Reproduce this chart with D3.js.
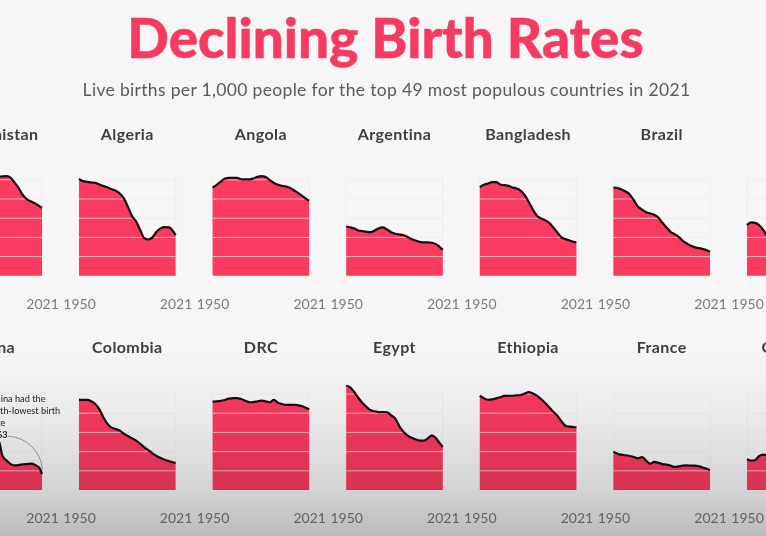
<!DOCTYPE html>
<html>
<head>
<meta charset="utf-8">
<script src="https://cdn.jsdelivr.net/npm/d3@7"></script>
<style>
html,body{margin:0;padding:0;background:#f6f6f6;overflow:hidden}
svg{display:block;filter:blur(0.45px)}
text{font-family:Lato,"Open Sans",sans-serif}
</style>
</head>
<body>
<script>
const years = [1950,1953,1956,1959,1962,1965,1968,1971,1974,1977,1980,1983,1986,1989,1992,1995,1998,2001,2004,2007,2010,2013,2016,2019,2021];
const yTicks = [10,20,30,40,50];
const xTickYears = [1950,2021];

const afghanistan = [50,50.5,51,51,51.2,51.4,51.5,51.5,51.5,51.6,51.6,51.6,51.6,51.6,51.8,51.9,51,48.4,45.5,42,39.8,38.7,37.7,36.3,35.4];
const algeria = [50.5,49.3,49,48.6,48.4,47.6,46.7,46,45.1,44.3,42.9,40.3,35.9,31.1,28.3,23.8,19.6,18.9,20,22.9,24.7,25.3,25.2,23.4,21.2];
const angola = [46,47.4,49,50.7,51,51,51,50.3,50.2,50.2,50.7,51.6,51.9,51.4,49.8,48.4,47.4,46.9,46.5,45.8,44.4,43.1,41.5,39.9,39.1];
const argentina = [25.7,25.2,24.6,23.6,23.3,22.9,22.7,23.6,24.8,25.2,24.1,22.7,21.9,21.5,21.2,20.3,19.1,18.4,17.7,17.4,17.4,17.2,16.5,14.8,13.5];
const bangladesh = [46.2,47.4,48.1,48.8,48.8,47.6,47.2,46.9,46,45.5,44.4,42,38.4,34.5,31.3,29.9,29,27.6,25.2,22.6,20,19.1,18.4,17.7,17.4];
const brazil = [46,45.7,45,43.9,42.4,39.4,36.1,34.5,33.1,32.5,31.8,30.4,27.6,25.2,22.9,21.7,20.3,18.2,16.8,15.6,14.8,14.4,13.9,13.2,12.5];
const canada = [26.4,27.8,27.6,26.3,23.8,20.5,17.5,16.5,15.8,15.3,15,15,14.8,14.5,14,13,12,11,11,11,11,10.8,10.5,10.2,10];
const china = [37,37,33,30,37,41,36,32,27,19,18,20,23,26,17.7,15.3,13.5,12.8,13,13.4,13.5,13.7,13,11.6,8.3];
const colombia = [46.9,46.9,46.9,46.2,44.8,42,37.8,34.4,32.5,31.8,30.9,29.3,28.1,26.9,25.7,24.1,22.2,20.8,19.1,17.7,16.7,15.8,15.1,14.4,14.1];
const drc = [46,46.2,46.4,46.9,47.6,47.9,47.9,47.4,46.5,45.7,45.8,46.2,46.5,46.2,45.7,46.9,45.5,44.8,44.3,44.3,44.4,44.1,43.6,42.7,42];
const egypt = [54.3,53.5,50.9,47.9,45.3,43.2,41.5,41,40.6,40.6,40.5,38.9,37.3,33.3,30.4,28.5,27.2,26.4,25.7,25.7,26.9,28.5,26.9,24.1,22.4];
const ethiopia = [49.1,47.8,47,47.2,47.7,48.3,49,49.1,49.1,49.3,49.5,50.2,51,50.2,49.1,47.4,45.3,43.1,40.8,38.7,35.8,33.5,33,32.8,32.6];
const france = [20,18.9,18.4,18.1,17.7,17.2,16.5,17.2,15.3,13.7,14.6,14.2,13.5,13.2,12.7,12,12.3,12.7,12.8,12.7,12.7,12.3,11.6,10.9,10.4];
const germany = [16,15.3,15.6,17.7,18.4,17.9,16,13,10.5,10,10,10.5,11,11,10,9.5,9.2,8.8,8.4,8.2,8.3,8.4,9,9.5,9.6];

const row1 = [["Afghanistan",afghanistan],["Algeria",algeria],["Angola",angola],["Argentina",argentina],["Bangladesh",bangladesh],["Brazil",brazil],["Canada",canada]];
const row2 = [["China",china],["Colombia",colombia],["DRC",drc],["Egypt",egypt],["Ethiopia",ethiopia],["France",france],["Germany",germany]];

const titleText = "Declining Birth Rates";
const subtitleText = "Live births per 1,000 people for the top 49 most populous countries in 2021";
const noteLines = ["China had the","10th-lowest birth","rate","7.63"];

const W = 766, H = 536;
const pitch = 133.6, firstX = -54.6, panelW = 96.6, panelH = 96;
const rowBase = [275.8, 490];

const svg = d3.select("body").append("svg").attr("width",W).attr("height",H).attr("viewBox",`0 0 ${W} ${H}`);
svg.append("rect").attr("width",W).attr("height",H).attr("fill","#f6f6f6");

svg.append("text").attr("x",385.5).attr("y",58).attr("text-anchor","middle")
  .attr("font-size",54.8).attr("font-weight",900).attr("fill","#f53b62")
  .attr("stroke","#f53b62").attr("stroke-width",0.5).text(titleText);
svg.append("text").attr("x",386.5).attr("y",95.5).attr("text-anchor","middle")
  .attr("font-size",17.5).attr("fill","#5a5a5a").attr("letter-spacing",0.33).text(subtitleText);

const x = d3.scaleLinear().domain([1950,2021]).range([0,panelW]);
const y = d3.scaleLinear().domain([0,50]).range([panelH,0]);
const area = d3.area().x((d,i)=>x(years[i])).y0(y(0)).y1(d=>y(d)).curve(d3.curveMonotoneX);
const line = d3.line().x((d,i)=>x(years[i])).y(d=>y(d)).curve(d3.curveMonotoneX);

[row1,row2].forEach((row,r)=>{
  row.forEach(([name,vals],i)=>{
    const g = svg.append("g").attr("transform",`translate(${firstX+i*pitch},${rowBase[r]-panelH})`);
    g.selectAll("line.v").data(xTickYears).join("line").attr("class","v")
      .attr("x1",d=>x(d)).attr("x2",d=>x(d)).attr("y1",y(50)-4).attr("y2",y(0))
      .attr("stroke","#ededed").attr("stroke-width",0.8);
    g.append("path").attr("d",area(vals)).attr("fill","#fb3a60");
    g.selectAll("line.h").data(yTicks).join("line").attr("class","h")
      .attr("x1",0).attr("x2",panelW).attr("y1",d=>y(d)).attr("y2",d=>y(d))
      .attr("stroke","#f0eaea").attr("stroke-opacity",0.72).attr("stroke-width",1);
    g.append("path").attr("d",line(vals)).attr("fill","none").attr("stroke","#1c0a10")
      .attr("stroke-width",2.2).attr("stroke-linejoin","round");
    g.append("text").attr("x",panelW/2).attr("y",r===0?-40:-41).attr("text-anchor","middle")
      .attr("font-size",16).attr("font-weight",700).attr("fill","#3d3f42").attr("letter-spacing",0.4).text(name);
    const ax = g.append("g").attr("transform",`translate(0,${panelH})`)
      .call(d3.axisBottom(x).tickValues(xTickYears).tickFormat(d3.format("d")).tickSize(0).tickPadding(23));
    ax.select(".domain").remove();
    ax.selectAll("text").attr("font-size",14).attr("fill","#7b7b7b").attr("font-family","Lato,sans-serif");

    if(name==="China"){
      const note = g.append("text").attr("font-size",9.2).attr("fill","#333");
      note.selectAll("tspan").data(noteLines).join("tspan")
        .attr("x",44).attr("y",(d,k)=>8+k*12)
        .attr("font-weight",(d,k)=>k===3?700:500).text(d=>d);
      const xs = x(1996), ys = y(28), xe = x(2021)+0.5, ye = y(10.5);
      g.append("path").attr("d",`M${xs},${ys}A36,36 0 0 1 ${xe},${ye}`)
        .attr("fill","none").attr("stroke","#777").attr("stroke-width",0.7);
    }
  });
});

// fade to grey at the foot of the image
const defs = svg.append("defs");
const lg = defs.append("linearGradient").attr("id","fade").attr("x1",0).attr("x2",0).attr("y1",0).attr("y2",1);
[[0,0],[0.37,0.05],[0.75,0.14],[1,0.24]].forEach(([o,a])=>lg.append("stop").attr("offset",o).attr("stop-color","#000").attr("stop-opacity",a));
svg.append("rect").attr("x",0).attr("y",350).attr("width",W).attr("height",186).attr("fill","url(#fade)");
</script>
</body>
</html>
